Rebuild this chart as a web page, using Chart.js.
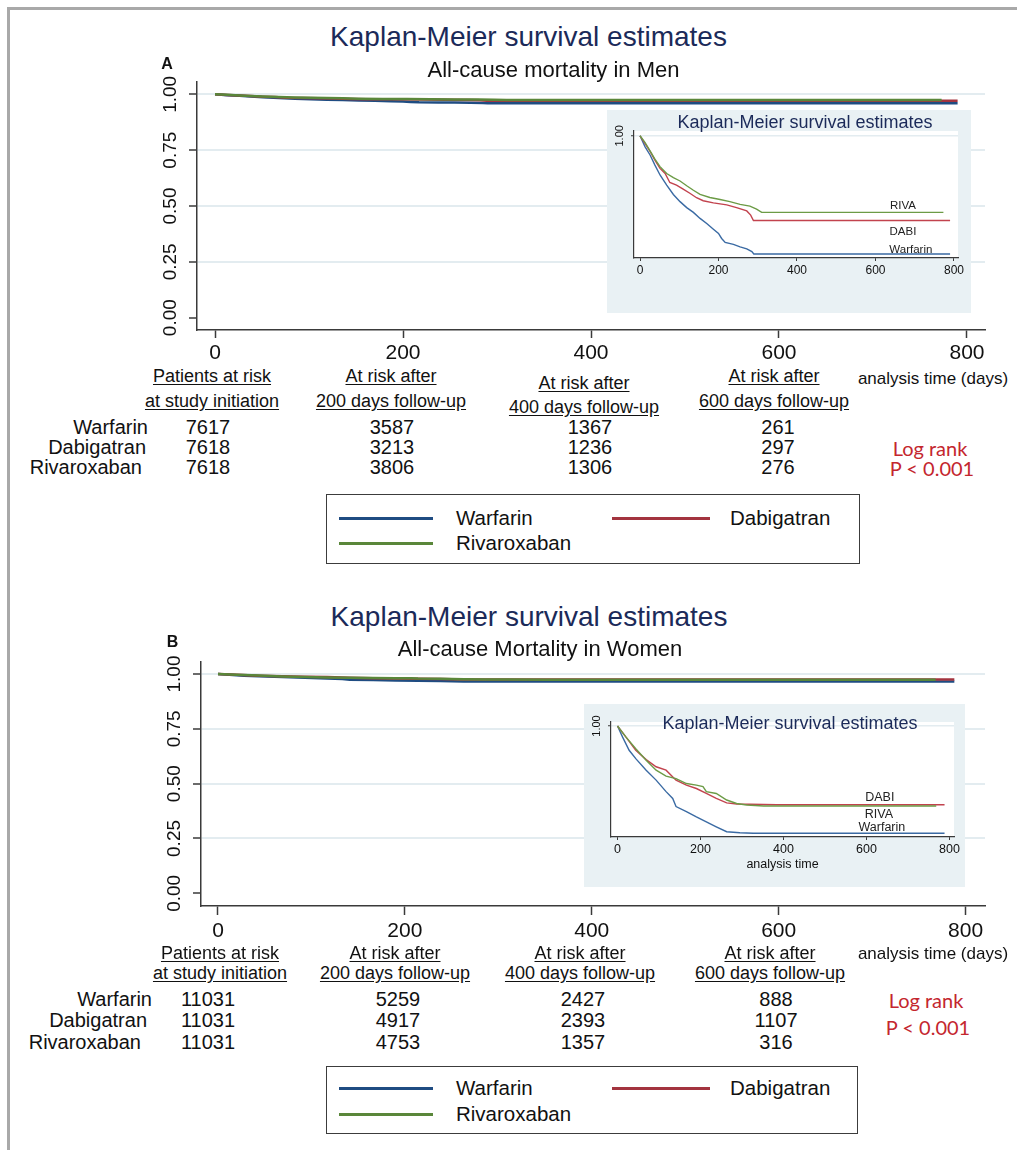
<!DOCTYPE html>
<html>
<head>
<meta charset="utf-8">
<title>Kaplan-Meier survival estimates</title>
<script src="https://cdn.jsdelivr.net/npm/chart.js@4.4.1/dist/chart.umd.min.js"></script>
<style>
  html,body{margin:0;padding:0;background:#fff;overflow:hidden;}
  body{width:1017px;height:1150px;position:relative;font-family:'Liberation Sans',Arial,Helvetica,sans-serif;color:#111;}
  .line{position:absolute;background:#a9a9a9;}
  .t{position:absolute;white-space:nowrap;line-height:1;}
  canvas{position:absolute;left:0;top:0;}
  .panel{position:absolute;background:#e9f1f4;}
  .legend{position:absolute;border:1.5px solid #3c3c3c;box-sizing:border-box;background:#fff;}
  .sw{position:absolute;height:3px;}
</style>
</head>
<body>
<div class="line" style="left:7px;top:7px;width:1010px;height:3px"></div>
<div class="line" style="left:7px;top:7px;width:3px;height:1143px"></div>
<canvas id="mainA" width="860" height="295" style="left:140px;top:70px"></canvas>
<div class="panel" style="left:607px;top:110px;width:364px;height:203px"><canvas id="insetA" width="364" height="203"></canvas></div>
<canvas id="mainB" width="860" height="295" style="left:140px;top:650px"></canvas>
<div class="panel" style="left:584px;top:704px;width:381px;height:183px"><canvas id="insetB" width="381" height="183"></canvas></div>
<script>
// ---------------- DATA ----------------
const seriesNames = ['Warfarin', 'Dabigatran', 'Rivaroxaban'];
const insetNames = ['Warfarin', 'DABI', 'RIVA'];
const xTickValues = [0, 200, 400, 600, 800];
const yTickValues = [0, 0.25, 0.5, 0.75, 1];
const insetYTickValues = [1];

// Panel A - Men (analysis time in days, survival probability)
const tWarfarinMen = [0, 13, 26, 38, 51, 68, 85, 102, 119, 136, 153, 170, 187, 200, 208, 217, 238, 255, 272, 285, 290, 790];
const sWarfarinMen = [1, 0.9963, 0.9935, 0.9902, 0.9869, 0.9835, 0.9804, 0.9780, 0.9760, 0.9744, 0.9724, 0.9707, 0.9688, 0.9674, 0.9657, 0.9644, 0.9637, 0.9629, 0.9622, 0.9613, 0.9605, 0.9605];
const tDabigatranMen = [0, 13, 26, 38, 51, 64, 76, 93, 110, 127, 144, 161, 187, 221, 246, 272, 282, 289, 790];
const sDabigatranMen = [1, 0.9974, 0.9947, 0.9919, 0.9891, 0.9874, 0.9844, 0.9835, 0.9822, 0.9808, 0.9793, 0.9783, 0.9776, 0.9769, 0.9760, 0.9749, 0.9735, 0.9717, 0.9717];
const tRivaroxabanMen = [0, 13, 26, 38, 51, 68, 85, 102, 119, 136, 153, 178, 204, 229, 255, 280, 297, 310, 773];
const sRivaroxabanMen = [1, 0.9977, 0.9949, 0.9922, 0.9897, 0.9874, 0.9860, 0.9849, 0.9833, 0.9818, 0.9804, 0.9794, 0.9787, 0.9780, 0.9771, 0.9765, 0.9755, 0.9744, 0.9744];

// Panel B - Women
const tWarfarinWomen = [0, 12, 28, 44, 69, 93, 117, 133, 141, 166, 190, 214, 238, 263, 295, 327, 788];
const sWarfarinWomen = [1, 0.9965, 0.9922, 0.9895, 0.9858, 0.9826, 0.9789, 0.9767, 0.9741, 0.9725, 0.9708, 0.9692, 0.9676, 0.9660, 0.9657, 0.9655, 0.9655];
const tDabigatranWomen = [0, 20, 44, 69, 93, 117, 141, 166, 190, 214, 238, 263, 287, 384, 788];
const sDabigatranWomen = [1, 0.9965, 0.9922, 0.9892, 0.9869, 0.9858, 0.9826, 0.9810, 0.9799, 0.9783, 0.9767, 0.9753, 0.9749, 0.9747, 0.9747];
const tRivaroxabanWomen = [0, 20, 44, 69, 93, 117, 141, 166, 190, 206, 214, 238, 263, 287, 311, 352, 768];
const sRivaroxabanWomen = [1, 0.9965, 0.9927, 0.9890, 0.9858, 0.9839, 0.9831, 0.9815, 0.9810, 0.9805, 0.9789, 0.9783, 0.9762, 0.9751, 0.9746, 0.9743, 0.9743];

// Numbers at risk
const headerTop = ['Patients at risk', 'At risk after', 'At risk after', 'At risk after'];
const headerBottom = ['at study initiation', '200 days follow-up', '400 days follow-up', '600 days follow-up'];
const atRiskMen = [[7617, 3587, 1367, 261], [7618, 3213, 1236, 297], [7618, 3806, 1306, 276]];
const atRiskWomen = [[11031, 5259, 2427, 888], [11031, 4917, 2393, 1107], [11031, 4753, 1357, 316]];

// ---------------- STYLE ----------------
const mainColors = ['#1f4c82', '#a3343f', '#5a873a'];
const insetColors = ['#3a6aa3', '#c2434e', '#6c9b46'];
const axisColor = '#3a3a3a';
const gridColor = '#e3ecf0';
const navy = '#1b2a59';
Chart.defaults.font.family = "'Liberation Sans', Arial, Helvetica, sans-serif";
Chart.defaults.color = '#111';

const areaBg = {
  id: 'areaBg',
  beforeDraw(chart, args, opts) {
    if (!opts.color) return;
    const {ctx, chartArea: a} = chart;
    ctx.save(); ctx.fillStyle = opts.color;
    ctx.fillRect(a.left, a.top, a.right - a.left, a.bottom - a.top);
    ctx.restore();
  }
};
const curveLabels = {
  id: 'curveLabels',
  afterDatasetsDraw(chart, args, opts) {
    if (!opts.items) return;
    const {ctx, scales: {x, y}} = chart;
    ctx.save(); ctx.font = opts.font; ctx.fillStyle = opts.color;
    ctx.textAlign = 'center'; ctx.textBaseline = 'middle';
    opts.items.forEach(it => ctx.fillText(it.text, x.getPixelForValue(it.x), y.getPixelForValue(it.y)));
    ctx.restore();
  }
};

function makeKM(id, c) {
  return new Chart(document.getElementById(id), {
    type: 'line',
    data: {
      datasets: c.series.map((s, i) => ({
        label: seriesNames[i],
        data: s.t.map((t, k) => ({x: t, y: s.v[k]})),
        borderColor: c.colors[i], borderWidth: c.lw, pointRadius: 0, tension: 0, fill: false,
        order: c.series.length - i
      }))
    },
    options: {
      responsive: false, animation: false, devicePixelRatio: 1,
      layout: {padding: {top: c.padTop, right: c.padRight, left: 0, bottom: 0}},
      plugins: {legend: {display: false}, tooltip: {enabled: false},
        areaBg: {color: c.areaColor || null}, curveLabels: c.labels || {}},
      scales: {
        x: {
          type: 'linear', min: c.xMin, max: c.xMax,
          afterBuildTicks: ax => { ax.ticks = xTickValues.map(v => ({value: v})); },
          afterFit: ax => { ax.height = c.xH; },
          border: {display: true, color: axisColor, width: c.axW},
          grid: {drawOnChartArea: false, drawTicks: true, tickLength: c.xTL, tickColor: axisColor, tickWidth: c.tkW, color: axisColor},
          ticks: {autoSkip: false, maxRotation: 0, minRotation: 0, padding: c.xPad, font: {size: c.xFont}, color: '#111', callback: v => String(v)},
          title: c.xTitle ? {display: true, text: c.xTitle, font: {size: c.xTitleFont}, color: '#111', padding: {top: 0, bottom: c.xTitlePadB}} : {display: false}
        },
        y: {
          type: 'linear', min: c.yMin, max: c.yMax,
          afterBuildTicks: ax => { ax.ticks = c.yTicks.map(v => ({value: v})); },
          afterFit: ax => { ax.width = c.yW; },
          border: {display: true, color: axisColor, width: c.axW},
          grid: {drawOnChartArea: true, drawTicks: true, tickLength: c.yTL, tickColor: axisColor, tickWidth: c.tkW, lineWidth: c.gridW,
                 color: ctx => (ctx.tick && ctx.tick.value === 0) ? 'rgba(0,0,0,0)' : gridColor},
          ticks: {autoSkip: false, minRotation: 90, maxRotation: 90, crossAlign: 'center', padding: c.yPad, font: {size: c.yFont}, color: '#111', callback: v => Number(v).toFixed(2)}
        }
      }
    },
    plugins: [areaBg, curveLabels]
  });
}

const menSeries = [{t: tWarfarinMen, v: sWarfarinMen}, {t: tDabigatranMen, v: sDabigatranMen}, {t: tRivaroxabanMen, v: sRivaroxabanMen}];
const womenSeries = [{t: tWarfarinWomen, v: sWarfarinWomen}, {t: tDabigatranWomen, v: sDabigatranWomen}, {t: tRivaroxabanWomen, v: sRivaroxabanWomen}];

// Main panel A
makeKM('mainA', {series: menSeries, colors: mainColors, lw: 2.5,
  padTop: 12, padRight: 15, yW: 57, xH: 35,
  xMin: -19.15, xMax: 819.15, yMin: -0.0551, yMax: 1.0551, yTicks: yTickValues,
  axW: 1.5, tkW: 1.5, gridW: 2, xTL: 8, xPad: 3, xFont: 21, yTL: 8, yPad: 0, yFont: 19});
// Inset A
makeKM('insetA', {series: menSeries, colors: insetColors, lw: 1.4, areaColor: '#ffffff',
  padTop: 21, padRight: 13, yW: 27, xH: 55,
  xMin: -15.29, xMax: 810.2, yMin: 0.95917, yMax: 1.0016, yTicks: insetYTickValues,
  axW: 1.2, tkW: 1, gridW: 1.5, xTL: 3, xPad: 2.5, xFont: 12, yTL: 3, yPad: 0, yFont: 11,
  labels: {font: "11.5px 'Liberation Sans', Arial, sans-serif", color: '#222',
    items: [{text: insetNames[2], x: 670, y: 0.97663}, {text: insetNames[1], x: 670, y: 0.96795}, {text: insetNames[0], x: 690, y: 0.96194}]}});
// Main panel B
makeKM('mainB', {series: womenSeries, colors: mainColors, lw: 2.5,
  padTop: 12, padRight: 15, yW: 61, xH: 39,
  xMin: -18.19, xMax: 820.8, yMin: -0.0579, yMax: 1.0547, yTicks: yTickValues,
  axW: 1.5, tkW: 1.5, gridW: 2, xTL: 9, xPad: 4, xFont: 21, yTL: 8, yPad: 0, yFont: 19});
// Inset B
makeKM('insetB', {series: womenSeries, colors: insetColors, lw: 1.4, areaColor: '#ffffff',
  padTop: 18, padRight: 11, yW: 27, xH: 50,
  xMin: -15.7, xMax: 810.8, yMin: 0.96431, yMax: 1.00129, yTicks: insetYTickValues,
  axW: 1.2, tkW: 1, gridW: 1.5, xTL: 3, xPad: 2.3, xFont: 12.5, yTL: 3, yPad: 0, yFont: 11,
  xTitle: 'analysis time', xTitleFont: 12.5, xTitlePadB: 14.5,
  labels: {font: "12.5px 'Liberation Sans', Arial, sans-serif", color: '#222',
    items: [{text: insetNames[1], x: 632, y: 0.97685}, {text: insetNames[2], x: 630, y: 0.97138}, {text: insetNames[0], x: 637, y: 0.9672}]}});

// ---------------- TEXT ----------------
function txt(s, x, y, o = {}) {
  const d = document.createElement('div');
  d.className = 't'; d.textContent = s;
  d.style.left = x + 'px'; d.style.top = y + 'px';
  d.style.fontSize = (o.size || 19) + 'px';
  const tx = o.align === 'right' ? '-100%' : (o.align === 'left' ? '0' : '-50%');
  d.style.transform = 'translate(' + tx + ',-50%)';
  if (o.color) d.style.color = o.color;
  if (o.bold) d.style.fontWeight = 'bold';
  if (o.u) { d.style.textDecoration = 'underline'; d.style.textUnderlineOffset = '2px'; }
  if (o.font) d.style.fontFamily = o.font;
  document.body.appendChild(d);
}
function legend(left, top, w, h, rowY) {
  const b = document.createElement('div');
  b.className = 'legend';
  Object.assign(b.style, {left: left + 'px', top: top + 'px', width: w + 'px', height: h + 'px'});
  document.body.appendChild(b);
  const items = [[339, 433, 456, rowY[0]], [612, 710, 730, rowY[0]], [339, 433, 456, rowY[1]]];
  items.forEach((it, i) => {
    const s = document.createElement('div');
    s.className = 'sw';
    Object.assign(s.style, {left: it[0] + 'px', top: (it[3] - 1.5) + 'px', width: (it[1] - it[0]) + 'px', background: mainColors[i]});
    document.body.appendChild(s);
    txt(seriesNames[i], it[2], it[3], {size: 20.5, align: 'left'});
  });
}
function riskTable(hx, hy1, hy2, nx, ry, rowRight, data, axisLabelPos, logPos) {
  headerTop.forEach((h, i) => txt(h, hx[i], hy1[i], {size: 18, u: true}));
  headerBottom.forEach((h, i) => txt(h, hx[i], hy2[i], {size: 18, u: true}));
  txt('analysis time (days)', axisLabelPos[0], axisLabelPos[1], {size: 17});
  seriesNames.forEach((n, r) => {
    txt(n, rowRight[r], ry[r], {size: 20, align: 'right'});
    data[r].forEach((v, c) => txt(String(v), nx[c], ry[r], {size: 20}));
  });
  txt('Log rank', logPos[0], logPos[1], {size: 20, color: '#c4262e', font: "Lato, 'Liberation Sans', sans-serif"});
  txt('P < 0.001', logPos[0] + 2, logPos[2], {size: 20, color: '#c4262e', font: "Lato, 'Liberation Sans', sans-serif"});
}

// Panel A texts
txt('Kaplan-Meier survival estimates', 528.5, 37, {size: 28, color: navy});
txt('All-cause mortality in Men', 553.5, 70, {size: 22});
txt('A', 167, 64, {size: 16, bold: true});
txt('Kaplan-Meier survival estimates', 805, 122, {size: 18, color: navy});
riskTable([212, 391, 584, 774], [376, 376, 383, 376], [401, 401, 407, 401], [208, 392, 590, 778],
  [427, 447, 467], [148, 146, 142], atRiskMen, [933, 378], [930, 448, 468]);
legend(326, 494, 534, 70, [518, 543]);

// Panel B texts
txt('Kaplan-Meier survival estimates', 529, 617, {size: 28, color: navy});
txt('All-cause Mortality in Women', 540, 649, {size: 22});
txt('B', 172.5, 642, {size: 16, bold: true});
txt('Kaplan-Meier survival estimates', 790, 723, {size: 18, color: navy});
riskTable([220, 395, 580, 770], [953, 953, 953, 953], [973, 973, 973, 973], [208, 398, 583, 776],
  [999, 1020, 1042], [152, 147, 141], atRiskWomen, [933, 953], [926, 1000, 1027]);
legend(326, 1066, 532, 68, [1088, 1114]);
</script>
</body>
</html>
